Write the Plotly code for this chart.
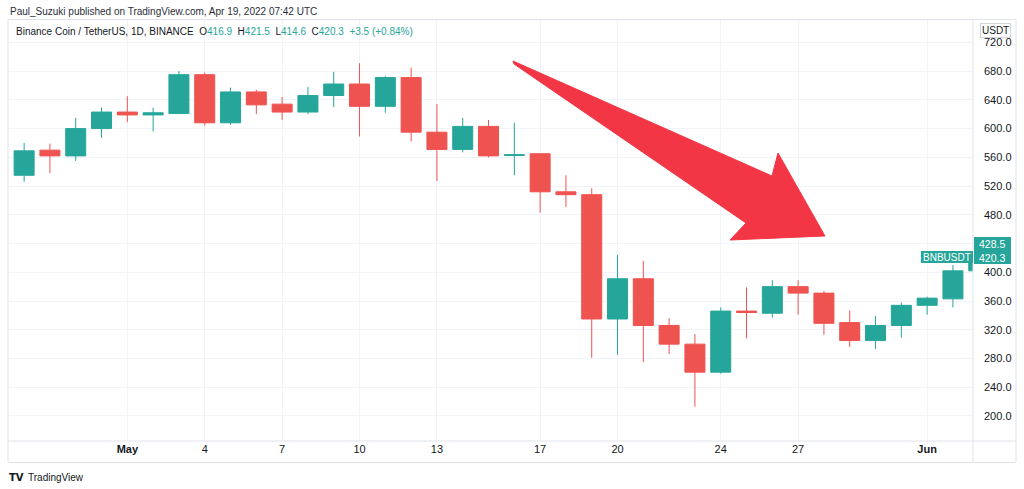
import plotly.graph_objects as go
import pandas as pd

# ---- data (BNB/USDT daily) ----
dates = pd.date_range("2021-04-27", "2021-06-03", freq="D")
opens = [535, 570, 562, 600, 623, 619, 621, 675, 608, 651, 634, 623, 646, 662, 631, 671, 595, 571, 603, 562.5,
         565, 512, 508, 335, 391, 326, 300, 261, 346, 343, 380, 371, 330, 305, 326, 354, 363, 402]
highs = [580, 579, 615, 629, 645, 629, 680, 678, 657, 654, 644, 658, 679, 691, 673, 685, 634, 615, 612, 608,
         566, 535, 517, 424, 416, 336, 314, 351, 379, 389, 389, 374, 347, 339, 358, 366, 410, 433]
lows = [526, 538, 555, 587, 609, 596, 620, 604, 605, 620, 612, 620, 630, 589, 622, 582, 527, 567, 560, 535,
        483, 491, 281, 285, 275, 286, 213, 259, 308, 337, 341, 313, 296, 293, 309, 341, 351, 399]
closes = [569, 562, 600, 623, 619, 622, 675, 608, 651, 633, 623, 646, 662, 631, 671, 595, 571, 603, 562, 563.5,
          512, 508, 335, 391, 326, 300, 261, 346, 344, 380, 371, 329, 305, 326, 354, 364, 402, 420]

y_tick_vals = [200, 240, 280, 320, 360, 400, 440, 480, 520, 560, 600, 640, 680, 720]
# the 440 label sits under the last-price tag, so it is left blank
y_tick_text = ["" if v == 440 else f"{v:.1f}" for v in y_tick_vals]
x_tick_vals = ["2021-05-01", "2021-05-04", "2021-05-07", "2021-05-10", "2021-05-13",
               "2021-05-17", "2021-05-20", "2021-05-24", "2021-05-27", "2021-06-01"]
x_tick_text = ["<b>May</b>", "4", "7", "10", "13", "17", "20", "24", "27", "<b>Jun</b>"]

GREEN = "#26a69a"
RED = "#ef5350"
TEXT = "#131722"
GRID = "#f0f3fa"
BORDER = "#e0e3eb"
FONT = "Liberation Sans"

W, H = 1024, 489
L, R, T, B = 8, 51, 20, 48


def px(x):
    return (x - L) / (W - L - R)


def py(y):
    return (H - B - y) / (H - T - B)


fig = go.Figure()
fig.add_trace(go.Candlestick(
    x=dates, open=opens, high=highs, low=lows, close=closes,
    increasing=dict(line=dict(color=GREEN, width=1), fillcolor=GREEN),
    decreasing=dict(line=dict(color=RED, width=1), fillcolor=RED),
    whiskerwidth=0, showlegend=False, hoverinfo="skip",
))

# arrow drawing (pixel outline)
arrow_pts = [(513, 61), (772, 176), (778, 153), (825, 236), (730, 240), (746, 223), (514, 64)]
path = "M " + " L ".join(f"{px(a):.5f},{py(b):.5f}" for a, b in arrow_pts) + " Z"

shapes = [
    dict(type="path", xref="paper", yref="paper", path=path, fillcolor="#f23645",
         line=dict(color="#f23645", width=1), layer="above"),
    # frame
    dict(type="rect", xref="paper", yref="paper", x0=px(8), x1=px(1016), y0=py(19.5), y1=py(462.5),
         line=dict(color=BORDER, width=1), layer="above"),
    dict(type="line", xref="paper", yref="paper", x0=px(8), x1=px(1016), y0=py(441), y1=py(441),
         line=dict(color=BORDER, width=1), layer="above"),
    dict(type="line", xref="paper", yref="paper", x0=px(973), x1=px(973), y0=py(19.5), y1=py(462.5),
         line=dict(color=BORDER, width=1), layer="above"),
    # symbol label
    dict(type="rect", xref="paper", yref="paper", x0=px(921), x1=px(973), y0=py(251), y1=py(263),
         fillcolor=GREEN, line=dict(width=0), layer="above"),
    # price labels
    dict(type="rect", xref="paper", yref="paper", x0=px(974), x1=px(1011), y0=py(237), y1=py(264),
         fillcolor=GREEN, line=dict(width=0), layer="above"),
]

annotations = [
    dict(text="Paul_Suzuki published on TradingView.com, Apr 19, 2022 07:42 UTC",
         x=px(8), y=py(12), xref="paper", yref="paper", xanchor="left", yanchor="middle",
         showarrow=False, font=dict(family=FONT, size=10, color="#2a2e39")),
    dict(text=("Binance Coin / TetherUS, 1D, BINANCE  "
               f"O<span style='color:{GREEN}'>416.9</span>  H<span style='color:{GREEN}'>421.5</span>  "
               f"L<span style='color:{GREEN}'>414.6</span>  C<span style='color:{GREEN}'>420.3</span>  "
               f"<span style='color:{GREEN}'>+3.5 (+0.84%)</span>"),
         x=px(14), y=py(32), xref="paper", yref="paper", xanchor="left", yanchor="middle",
         showarrow=False, font=dict(family=FONT, size=10, color=TEXT)),
    dict(text="USDT", x=px(995), y=py(31), xref="paper", yref="paper", xanchor="center", yanchor="middle",
         showarrow=False, font=dict(family=FONT, size=10, color=TEXT), bgcolor="white",
         bordercolor="#d1d4dc", borderwidth=1, borderpad=1),
    dict(text="BNBUSDT", x=px(947), y=py(257), xref="paper", yref="paper", xanchor="center", yanchor="middle",
         showarrow=False, font=dict(family=FONT, size=10, color="white")),
    dict(text="428.5", x=px(992), y=py(244), xref="paper", yref="paper", xanchor="center", yanchor="middle",
         showarrow=False, font=dict(family=FONT, size=10.5, color="white")),
    dict(text="420.3", x=px(992), y=py(257.5), xref="paper", yref="paper", xanchor="center", yanchor="middle",
         showarrow=False, font=dict(family=FONT, size=10.5, color="white")),
    dict(text="<b>TV</b>", x=px(7), y=py(477), xref="paper", yref="paper", xanchor="left", yanchor="middle",
         showarrow=False, font=dict(family="DejaVu Sans", size=10, color=TEXT)),
    dict(text="TradingView", x=px(26), y=py(477), xref="paper", yref="paper", xanchor="left", yanchor="middle",
         showarrow=False, font=dict(family=FONT, size=10, color=TEXT)),
]

fig.update_layout(
    width=W, height=H,
    margin=dict(l=L, r=R, t=T, b=B, pad=0),
    paper_bgcolor="white", plot_bgcolor="white",
    boxgap=0.225, boxgroupgap=0,
    shapes=shapes, annotations=annotations,
    font=dict(family=FONT, size=11, color=TEXT),
    xaxis=dict(
        type="date", range=["2021-04-26 09:00", "2021-06-02 18:40"],
        tickmode="array", tickvals=x_tick_vals, ticktext=x_tick_text,
        showgrid=True, gridcolor=GRID, gridwidth=1, zeroline=False,
        rangeslider=dict(visible=False), ticks="", showline=False,
        tickfont=dict(family=FONT, size=11, color=TEXT),
    ),
    yaxis=dict(
        side="right", range=[165.2, 751.1],
        tickmode="array", tickvals=y_tick_vals, ticktext=y_tick_text,
        showgrid=True, gridcolor=GRID, gridwidth=1, zeroline=False,
        ticks="", showline=False, ticklabelstandoff=10,
        tickfont=dict(family=FONT, size=11, color=TEXT),
    ),
)

fig.write_html("out.html")
